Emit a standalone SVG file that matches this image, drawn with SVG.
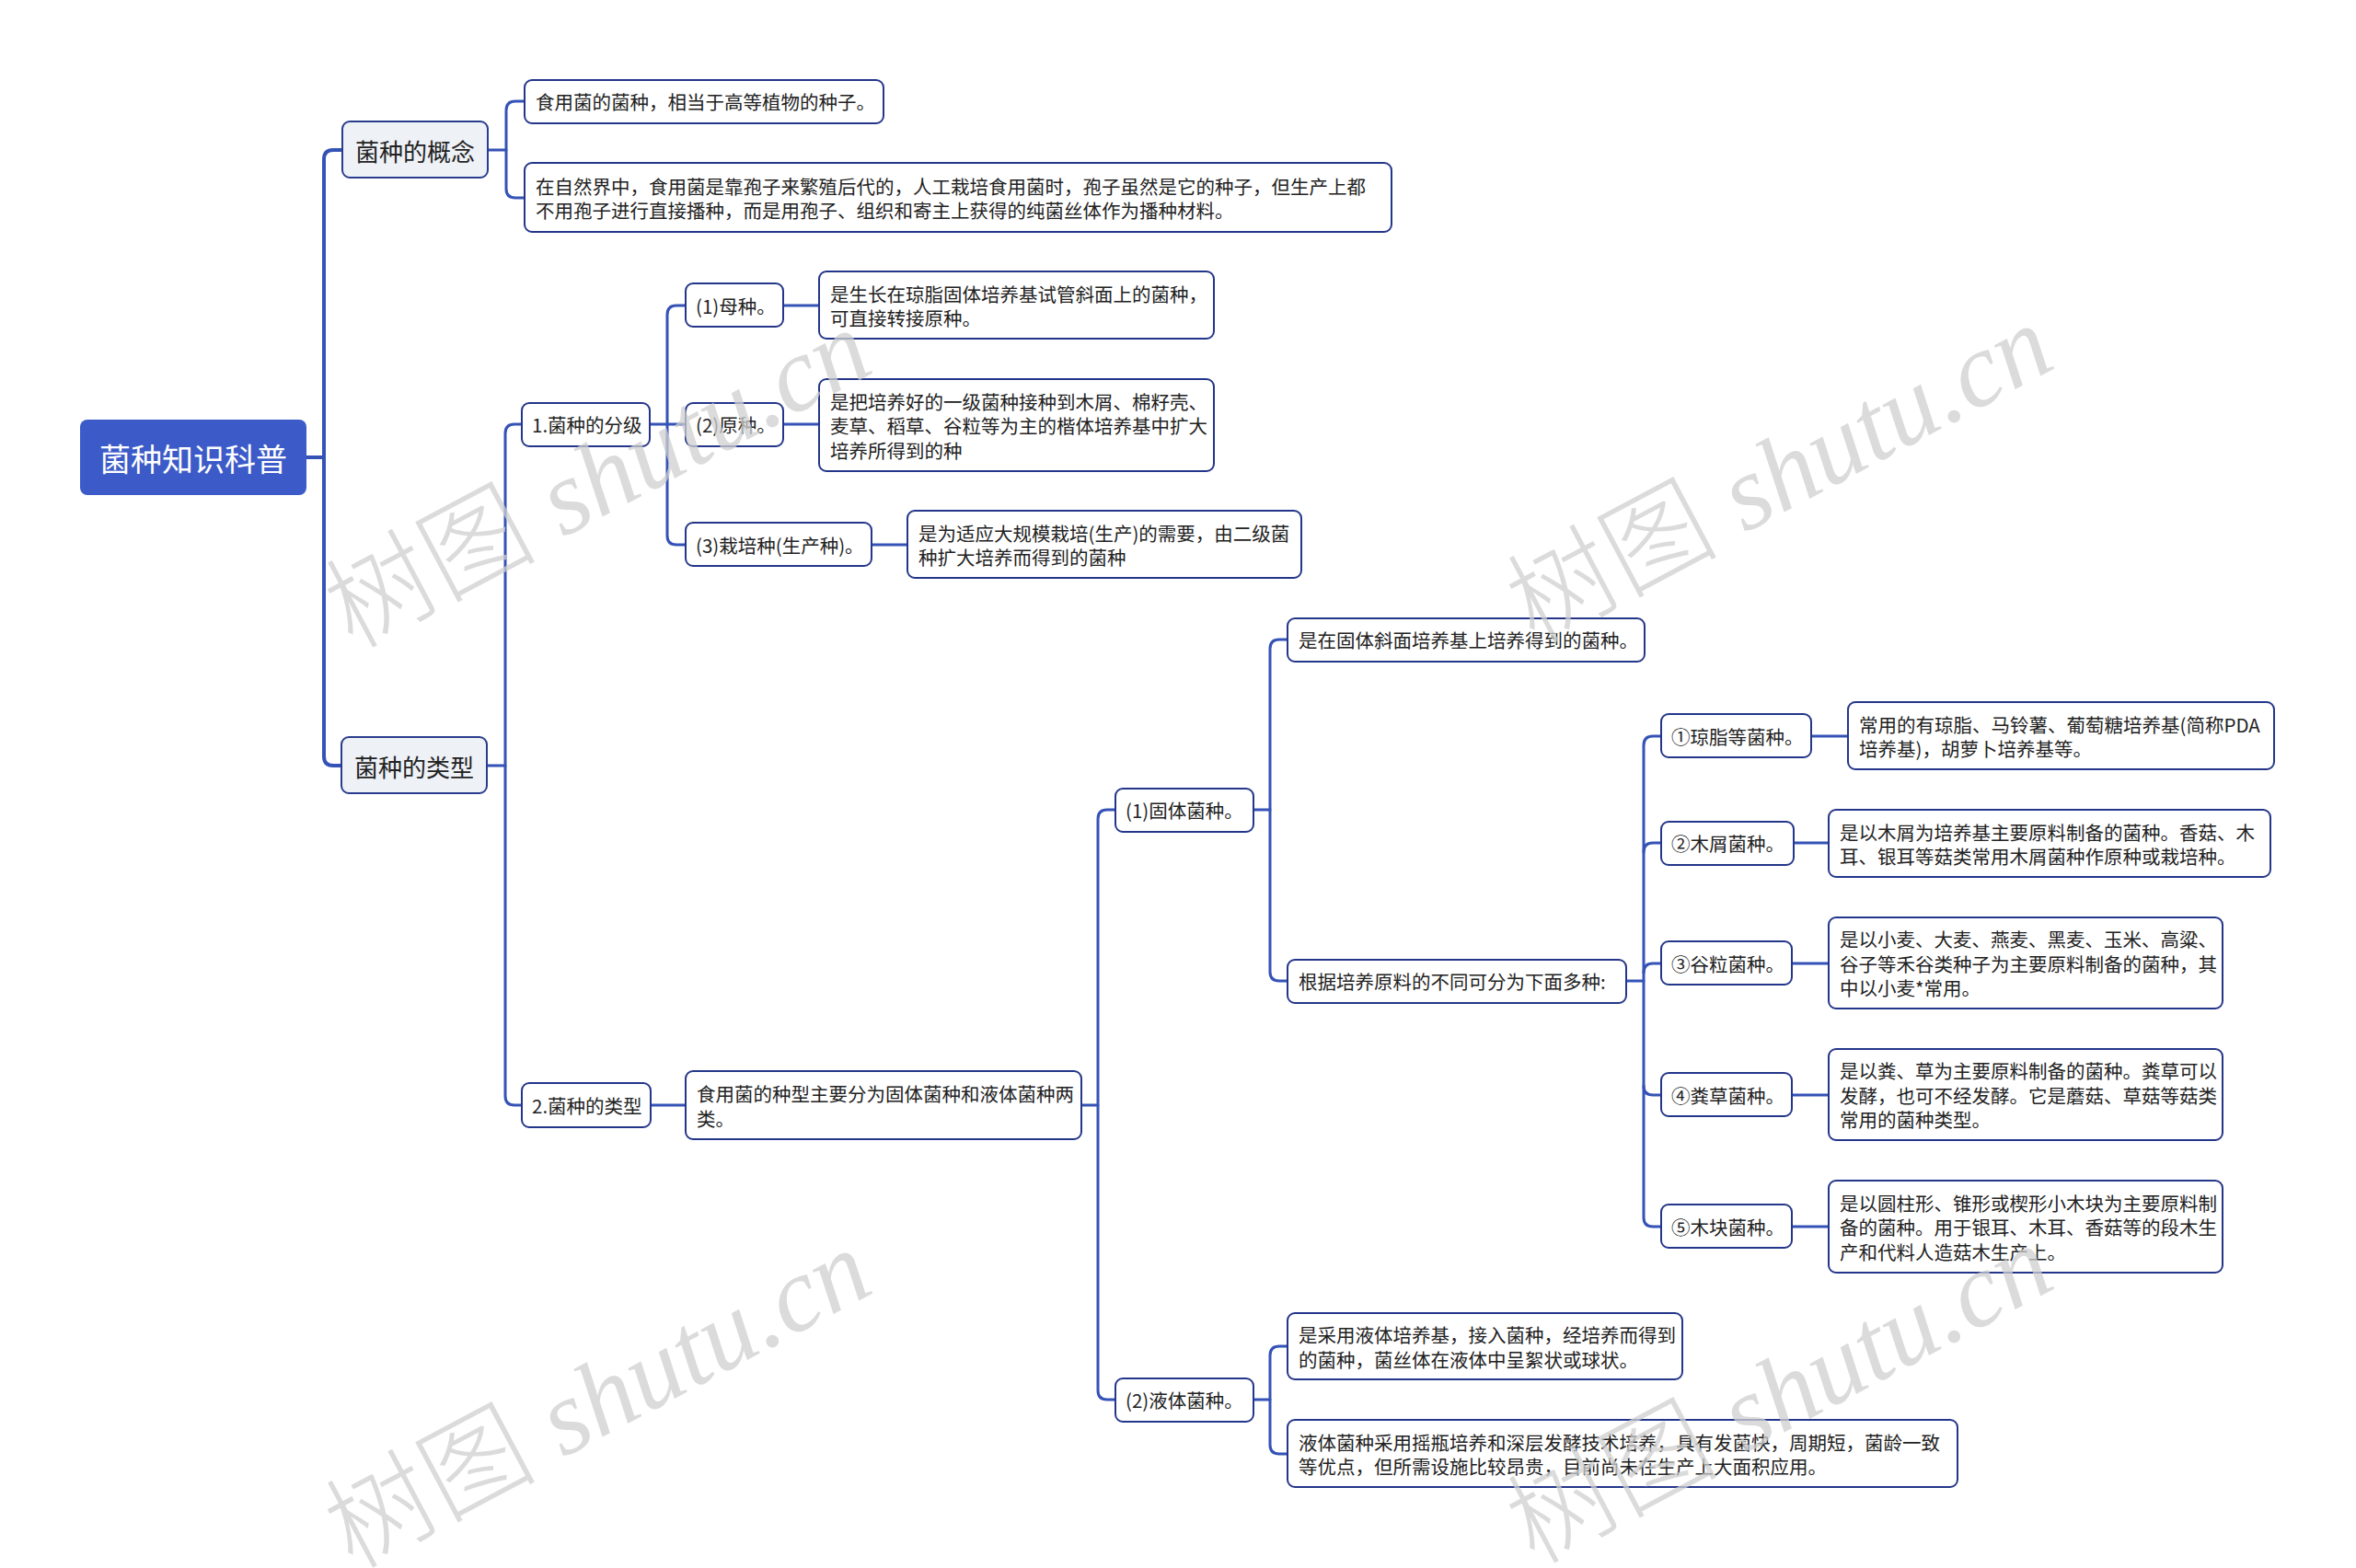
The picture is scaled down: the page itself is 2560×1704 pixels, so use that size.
<svg xmlns="http://www.w3.org/2000/svg" width="2560" height="1704" viewBox="0 0 2560 1704">
<style>
.bg{fill:#ffffff}
.root rect{fill:#3c5bc8}
.root text{fill:#ffffff;font-size:34px}
.l1 rect{fill:#eef1f6;stroke:#2a3c8e;stroke-width:2}
.l1 text{fill:#222222;font-size:26px}
.n rect{fill:#ffffff;stroke:#24368a;stroke-width:2}
.n text{fill:#222222;font-size:20.5px}
text{font-family:"Noto Sans CJK SC","Noto Sans",sans-serif;dominant-baseline:central}
.c path{fill:none;stroke:#3553b6;stroke-width:3;stroke-linecap:round}
.c path.thick{stroke-width:4}
.wm{fill:#cfcfcf;fill-opacity:0.75;font-size:115px}
.wm .cn{font-family:"Noto Sans CJK SC",sans-serif;font-weight:300}
.wm .en{font-family:"Liberation Serif",serif;font-style:italic}
</style>
<rect class="bg" x="0" y="0" width="2560" height="1704"/>
<g id="connectors" class="c">
<path class="thick" d="M333,497 H352"/>
<path class="thick" d="M372,163 H362 Q352,163 352,173 V822 Q352,832 362,832 H371"/>
<path d="M530,163 H550"/>
<path d="M570,110 H560 Q550,110 550,120 V205 Q550,215 560,215 H570"/>
<path d="M529,832 H549"/>
<path d="M567,461 H559 Q549,461 549,471 V1191 Q549,1201 559,1201 H567"/>
<path d="M706,461 H745"/>
<path d="M745,332 H735 Q725,332 725,342 V582 Q725,592 735,592 H745"/>
<path d="M851,332 H890"/>
<path d="M851,461 H890"/>
<path d="M947,592 H986"/>
<path d="M707,1201 H745"/>
<path d="M1175,1201 H1193"/>
<path d="M1212,880 H1203 Q1193,880 1193,890 V1511 Q1193,1521 1203,1521 H1212"/>
<path d="M1362,880 H1380"/>
<path d="M1399,695 H1390 Q1380,695 1380,705 V1056 Q1380,1066 1390,1066 H1399"/>
<path d="M1767,1066 H1786"/>
<path d="M1805,800 H1796 Q1786,800 1786,810 V1323 Q1786,1333 1796,1333 H1805"/>
<path d="M1786,926 Q1786,916 1796,916 H1805"/>
<path d="M1786,1057 Q1786,1047 1796,1047 H1805"/>
<path d="M1786,1180 Q1786,1190 1796,1190 H1805"/>
<path d="M1968,800 H2008"/>
<path d="M1949,916 H1987"/>
<path d="M1947,1047 H1987"/>
<path d="M1947,1190 H1987"/>
<path d="M1947,1333 H1987"/>
<path d="M1362,1521 H1380"/>
<path d="M1399,1463 H1390 Q1380,1463 1380,1473 V1570 Q1380,1580 1390,1580 H1399"/>
</g>
<g id="root" class="root"><rect x="87" y="456" width="246" height="82" rx="8"/><text x="210" y="497" text-anchor="middle">菌种知识科普</text></g>
<g id="n-concept" class="l1"><rect x="372" y="132" width="158" height="61" rx="8"/><text x="451" y="163" text-anchor="middle">菌种的概念</text></g>
<g id="n-types" class="l1"><rect x="371" y="801" width="158" height="61" rx="8"/><text x="450" y="832" text-anchor="middle">菌种的类型</text></g>
<g id="n-a1" class="n"><rect x="570" y="87" width="390" height="47" rx="8"/><text x="582" y="110">食用菌的菌种，相当于高等植物的种子。</text></g>
<g id="n-a2" class="n"><rect x="570" y="177" width="942" height="75" rx="8"/><text x="582" y="201.5">在自然界中，食用菌是靠孢子来繁殖后代的，人工栽培食用菌时，孢子虽然是它的种子，但生产上都</text><text x="582" y="228">不用孢子进行直接播种，而是用孢子、组织和寄主上获得的纯菌丝体作为播种材料。</text></g>
<g id="n-b1" class="n"><rect x="567" y="438" width="139" height="47" rx="8"/><text x="578" y="461">1.菌种的分级</text></g>
<g id="n-b2" class="n"><rect x="567" y="1177" width="140" height="48" rx="8"/><text x="578" y="1201">2.菌种的类型</text></g>
<g id="n-c1" class="n"><rect x="745" y="308" width="106" height="47" rx="8"/><text x="756" y="332">(1)母种。</text></g>
<g id="n-c2" class="n"><rect x="745" y="438" width="106" height="47" rx="8"/><text x="756" y="461">(2)原种。</text></g>
<g id="n-c3" class="n"><rect x="745" y="568" width="202" height="47" rx="8"/><text x="756" y="592">(3)栽培种(生产种)。</text></g>
<g id="n-c1d" class="n"><rect x="890" y="295" width="429" height="73" rx="8"/><text x="902" y="318.5">是生长在琼脂固体培养基试管斜面上的菌种，</text><text x="902" y="345">可直接转接原种。</text></g>
<g id="n-c2d" class="n"><rect x="890" y="412" width="429" height="100" rx="8"/><text x="902" y="435.5">是把培养好的一级菌种接种到木屑、棉籽壳、</text><text x="902" y="462">麦草、稻草、谷粒等为主的楷体培养基中扩大</text><text x="902" y="488.5">培养所得到的种</text></g>
<g id="n-c3d" class="n"><rect x="986" y="555" width="428" height="73" rx="8"/><text x="998" y="578.5">是为适应大规模栽培(生产)的需要，由二级菌</text><text x="998" y="605">种扩大培养而得到的菌种</text></g>
<g id="n-d" class="n"><rect x="745" y="1164" width="430" height="74" rx="8"/><text x="757" y="1188">食用菌的种型主要分为固体菌种和液体菌种两</text><text x="757" y="1214.5">类。</text></g>
<g id="n-e1" class="n"><rect x="1212" y="857" width="150" height="47" rx="8"/><text x="1223" y="880">(1)固体菌种。</text></g>
<g id="n-e2" class="n"><rect x="1212" y="1498" width="150" height="47" rx="8"/><text x="1223" y="1521">(2)液体菌种。</text></g>
<g id="n-f1" class="n"><rect x="1399" y="672" width="388" height="47" rx="8"/><text x="1411" y="695">是在固体斜面培养基上培养得到的菌种。</text></g>
<g id="n-f2" class="n"><rect x="1399" y="1043" width="368" height="47" rx="8"/><text x="1411" y="1066">根据培养原料的不同可分为下面多种:</text></g>
<g id="n-g1" class="n"><rect x="1805" y="776" width="163" height="47" rx="8"/><text x="1816" y="800">①琼脂等菌种。</text></g>
<g id="n-g2" class="n"><rect x="1805" y="893" width="144" height="47" rx="8"/><text x="1816" y="916">②木屑菌种。</text></g>
<g id="n-g3" class="n"><rect x="1805" y="1023" width="142" height="47" rx="8"/><text x="1816" y="1047">③谷粒菌种。</text></g>
<g id="n-g4" class="n"><rect x="1805" y="1166" width="142" height="47" rx="8"/><text x="1816" y="1190">④粪草菌种。</text></g>
<g id="n-g5" class="n"><rect x="1805" y="1309" width="142" height="47" rx="8"/><text x="1816" y="1333">⑤木块菌种。</text></g>
<g id="n-g1d" class="n"><rect x="2008" y="763" width="463" height="73" rx="8"/><text x="2020" y="786.5">常用的有琼脂、马铃薯、葡萄糖培养基(简称PDA</text><text x="2020" y="813">培养基)，胡萝卜培养基等。</text></g>
<g id="n-g2d" class="n"><rect x="1987" y="880" width="480" height="73" rx="8"/><text x="1999" y="903.5">是以木屑为培养基主要原料制备的菌种。香菇、木</text><text x="1999" y="930">耳、银耳等菇类常用木屑菌种作原种或栽培种。</text></g>
<g id="n-g3d" class="n"><rect x="1987" y="997" width="428" height="99" rx="8"/><text x="1999" y="1020">是以小麦、大麦、燕麦、黑麦、玉米、高粱、</text><text x="1999" y="1046.5">谷子等禾谷类种子为主要原料制备的菌种，其</text><text x="1999" y="1073">中以小麦*常用。</text></g>
<g id="n-g4d" class="n"><rect x="1987" y="1140" width="428" height="99" rx="8"/><text x="1999" y="1163">是以粪、草为主要原料制备的菌种。粪草可以</text><text x="1999" y="1189.5">发酵，也可不经发酵。它是蘑菇、草菇等菇类</text><text x="1999" y="1216">常用的菌种类型。</text></g>
<g id="n-g5d" class="n"><rect x="1987" y="1283" width="428" height="100" rx="8"/><text x="1999" y="1306.5">是以圆柱形、锥形或楔形小木块为主要原料制</text><text x="1999" y="1333">备的菌种。用于银耳、木耳、香菇等的段木生</text><text x="1999" y="1359.5">产和代料人造菇木生产上。</text></g>
<g id="n-h1" class="n"><rect x="1399" y="1427" width="429" height="72" rx="8"/><text x="1411" y="1450">是采用液体培养基，接入菌种，经培养而得到</text><text x="1411" y="1476.5">的菌种，菌丝体在液体中呈絮状或球状。</text></g>
<g id="n-h2" class="n"><rect x="1399" y="1543" width="728" height="73" rx="8"/><text x="1411" y="1566.5">液体菌种采用摇瓶培养和深层发酵技术培养，具有发菌快，周期短，菌龄一致</text><text x="1411" y="1593">等优点，但所需设施比较昂贵，目前尚未在生产上大面积应用。</text></g>
<g id="watermarks" class="wm">
<text transform="translate(383,706) rotate(-28)" style="dominant-baseline:alphabetic"><tspan class="cn">树图</tspan><tspan class="en"> shutu.cn</tspan></text>
<text transform="translate(1667,701) rotate(-28)" style="dominant-baseline:alphabetic"><tspan class="cn">树图</tspan><tspan class="en"> shutu.cn</tspan></text>
<text transform="translate(383,1706) rotate(-28)" style="dominant-baseline:alphabetic"><tspan class="cn">树图</tspan><tspan class="en"> shutu.cn</tspan></text>
<text transform="translate(1667,1701) rotate(-28)" style="dominant-baseline:alphabetic"><tspan class="cn">树图</tspan><tspan class="en"> shutu.cn</tspan></text>
</g>
</svg>
